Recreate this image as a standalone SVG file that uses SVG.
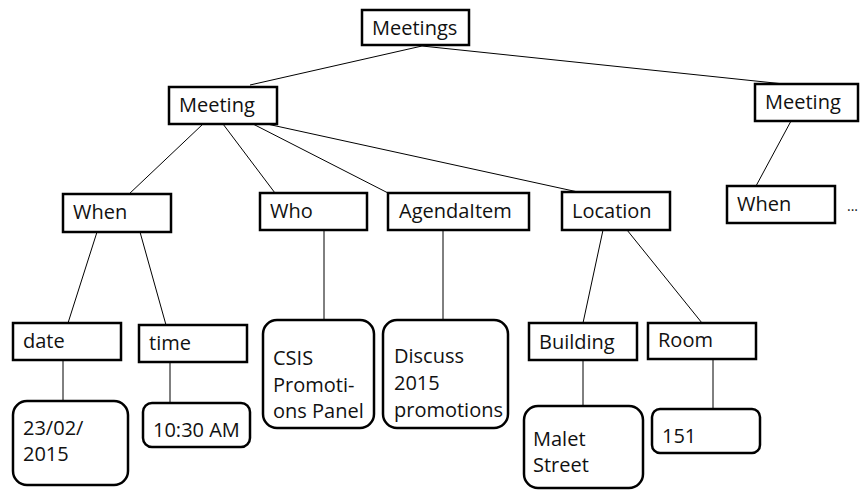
<svg xmlns="http://www.w3.org/2000/svg" width="860" height="490" viewBox="0 0 860 490">
<style>
.box{fill:#fff;stroke:#000;stroke-width:2.5}
.val{fill:#fff;stroke:#000;stroke-width:2.5}
.t{font-family:"Open Sans","DejaVu Sans",sans-serif;font-size:20px;fill:#111}
.c line{stroke:#000;stroke-width:1}
</style>
<rect width="860" height="490" fill="#fff"/>
<g class="c" id="connectors">
<line x1="422" y1="46" x2="250" y2="85"/>
<line x1="422" y1="46" x2="784" y2="84"/>
<line x1="203" y1="124" x2="128" y2="195"/>
<line x1="223" y1="124" x2="275" y2="193"/>
<line x1="253" y1="124" x2="390" y2="194"/>
<line x1="267" y1="124" x2="578" y2="192"/>
<line x1="791" y1="121" x2="756" y2="186"/>
<line x1="97" y1="232" x2="68" y2="323"/>
<line x1="140" y1="232" x2="166" y2="325"/>
<line x1="324" y1="230" x2="324" y2="320"/>
<line x1="443" y1="230" x2="443" y2="325"/>
<line x1="603" y1="230" x2="583" y2="323"/>
<line x1="627" y1="230" x2="702" y2="323"/>
<line x1="63" y1="360" x2="63" y2="401"/>
<line x1="170" y1="362" x2="170" y2="403"/>
<line x1="583" y1="360" x2="583" y2="406"/>
<line x1="713" y1="359" x2="713" y2="409"/>
</g>
<g id="meetings"><rect class="box" x="362" y="10" width="107" height="35"/><text class="t" x="372" y="35">Meetings</text></g>
<g id="meeting1"><rect class="box" x="169" y="87" width="108" height="37"/><text class="t" x="179" y="112">Meeting</text></g>
<g id="meeting2"><rect class="box" x="755" y="84" width="103" height="37"/><text class="t" x="765" y="109">Meeting</text></g>
<g id="when1"><rect class="box" x="63" y="194" width="108" height="38"/><text class="t" x="73" y="219">When</text></g>
<g id="who"><rect class="box" x="260" y="193" width="107" height="37"/><text class="t" x="270" y="218">Who</text></g>
<g id="agendaitem"><rect class="box" x="388" y="193" width="141" height="37"/><text class="t" x="399" y="218">AgendaItem</text></g>
<g id="location"><rect class="box" x="562" y="192" width="108" height="38"/><text class="t" x="572" y="218">Location</text></g>
<g id="when2"><rect class="box" x="727" y="186" width="108" height="37"/><text class="t" x="737" y="211">When</text></g>
<g id="more"><text class="t" x="847" y="211" style="font-size:14px">...</text></g>
<g id="date"><rect class="box" x="13" y="323" width="108" height="37"/><text class="t" x="23" y="348">date</text></g>
<g id="time"><rect class="box" x="139" y="325" width="108" height="37"/><text class="t" x="149" y="350">time</text></g>
<g id="csis"><rect class="val" x="263" y="320" width="111" height="108" rx="14"/><text class="t" x="273" y="365">CSIS</text><text class="t" x="273" y="392">Promoti-</text><text class="t" x="273" y="418">ons Panel</text></g>
<g id="discuss"><rect class="val" x="383" y="320" width="125" height="108" rx="14"/><text class="t" x="394" y="363">Discuss</text><text class="t" x="394" y="390">2015</text><text class="t" x="394" y="417">promotions</text></g>
<g id="building"><rect class="box" x="529" y="323" width="108" height="37"/><text class="t" x="539" y="349">Building</text></g>
<g id="room"><rect class="box" x="648" y="323" width="108" height="36"/><text class="t" x="658" y="347">Room</text></g>
<g id="datev"><rect class="val" x="13" y="401" width="115" height="84" rx="14"/><text class="t" x="23" y="435">23/02/</text><text class="t" x="23" y="461">2015</text></g>
<g id="timev"><rect class="val" x="143" y="403" width="107" height="44" rx="9"/><text class="t" x="153" y="437">10:30 AM</text></g>
<g id="buildingv"><rect class="val" x="524" y="406" width="119" height="82" rx="14"/><text class="t" x="533" y="446">Malet</text><text class="t" x="533" y="472">Street</text></g>
<g id="roomv"><rect class="val" x="652" y="409" width="108" height="44" rx="8"/><text class="t" x="662" y="443">151</text></g>
</svg>
